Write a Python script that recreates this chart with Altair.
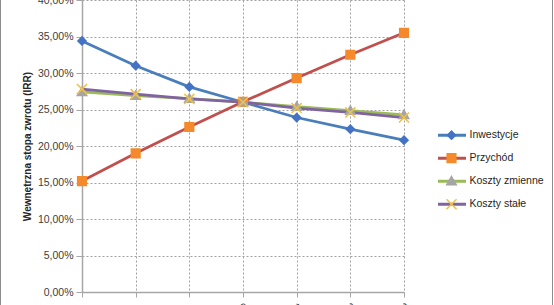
import altair as alt
import pandas as pd

categories = ["-30%", "-20%", "-10%", "0%", "10%", "20%", "30%"]
series_names = ["Inwestycje", "Przychód", "Koszty zmienne", "Koszty stałe"]
inwestycje = [34.4, 31.0, 28.1, 26.0, 23.9, 22.3, 20.8]
przychod = [15.2, 19.0, 22.6, 26.05, 29.3, 32.5, 35.5]
koszty_zmienne = [27.4, 26.9, 26.5, 26.0, 25.4, 24.85, 24.25]
koszty_stale = [27.8, 27.1, 26.45, 26.0, 25.2, 24.6, 23.9]

line_colors = ["#4A7EBB", "#C0504D", "#9BBB59", "#8064A2"]
marker_colors = ["#4472C4", "#F58A2C", "#A5A5A5", "#F2C043"]
marker_shapes = [
    "M0,-0.29L0.29,0L0,0.29L-0.29,0Z",
    "M-0.31,-0.31H0.31V0.31H-0.31Z",
    "M0,-0.33L0.34,0.26L-0.34,0.26Z",
    "M-0.36,-0.36L0.36,0.36M-0.36,0.36L0.36,-0.36",
]

rows = []
for name, vals in zip(series_names, [inwestycje, przychod, koszty_zmienne, koszty_stale]):
    for c, v in zip(categories, vals):
        rows.append({"kat": c, "seria": name, "irr": v / 100})
df = pd.DataFrame(rows)

FONT = "Liberation Sans"

x_enc = alt.X(
    "kat:N",
    sort=categories,
    scale=alt.Scale(type="point", padding=0),
    axis=alt.Axis(
        title=None,
        grid=True,
        gridDash=[2, 2],
        gridColor="#A0A0A0",
        domainColor="#A6A6A6",
        domainWidth=1.5,
        tickColor="#A6A6A6",
        tickSize=5,
        labelAngle=45,
        labelFont=FONT,
        labelFontSize=10.5,
        labelColor="#404040",
        labelPadding=4,
    ),
)
y_enc = alt.Y(
    "irr:Q",
    scale=alt.Scale(domain=[0, 0.4], nice=False),
    axis=alt.Axis(
        title="Wewnętrzna stopa zwrotu (IRR)",
        titleFont=FONT,
        titleFontSize=10,
        titleFontWeight="bold",
        titleColor="#262626",
        titlePadding=5,
        values=[0, 0.05, 0.1, 0.15, 0.2, 0.25, 0.3, 0.35, 0.4],
        labelExpr="replace(format(datum.value, '.2%'), '.', ',')",
        labelFont=FONT,
        labelFontSize=10.5,
        labelColor="#404040",
        labelPadding=3,
        grid=True,
        gridDash=[2, 2],
        gridColor="#A0A0A0",
        domainColor="#A6A6A6",
        domainWidth=1.5,
        tickColor="#A6A6A6",
        tickSize=6,
    ),
)

legend_common = dict(
    orient="none",
    legendX=354.5,
    legendY=124,
    title=None,
    labelFont=FONT,
    labelFontSize=10.5,
    labelOffset=2,
    symbolSize=784,
    clipHeight=22.4,
    rowPadding=0,
)

lines = alt.Chart(df).mark_line(strokeWidth=2.75, strokeJoin="round").encode(
    x=x_enc,
    y=y_enc,
    color=alt.Color(
        "seria:N",
        scale=alt.Scale(domain=series_names, range=line_colors),
        legend=alt.Legend(symbolType="stroke", symbolStrokeWidth=3, labelColor="#262626", **legend_common),
    ),
)

points = alt.Chart(df).mark_point(filled=True, size=784, strokeWidth=1.5, opacity=1).encode(
    x=x_enc,
    y=y_enc,
    fill=alt.Fill(
        "seria:N",
        scale=alt.Scale(domain=series_names, range=marker_colors),
        legend=alt.Legend(labelColor="transparent", symbolStrokeWidth=1.5, **legend_common),
    ),
    stroke=alt.Stroke(
        "seria:N",
        scale=alt.Scale(domain=series_names, range=marker_colors),
        legend=alt.Legend(labelColor="transparent", symbolStrokeWidth=1.5, **legend_common),
    ),
    shape=alt.Shape(
        "seria:N",
        scale=alt.Scale(domain=series_names, range=marker_shapes),
        legend=alt.Legend(labelColor="transparent", symbolStrokeWidth=1.5, **legend_common),
    ),
)

border_l = alt.Chart(df).mark_rule(color="#8C8C8C", strokeWidth=1).encode(
    x=alt.value(-81.5), y=alt.value(-10), y2=alt.value(330)
)
border_r = alt.Chart(df).mark_rule(color="#8C8C8C", strokeWidth=1).encode(
    x=alt.value(470.5), y=alt.value(-10), y2=alt.value(330)
)

chart = (
    alt.layer(lines, points, border_l, border_r)
    .resolve_scale(color="independent", fill="independent", stroke="independent", shape="independent")
    .properties(
        width=322,
        height=292,
        autosize=alt.AutoSizeParams(type="none"),
        padding={"left": 82, "top": 0, "right": 150, "bottom": 13},
        background="white",
    )
    .configure_view(stroke=None)
)

chart.save("out.html", embed_options={"renderer": "svg", "actions": False})
